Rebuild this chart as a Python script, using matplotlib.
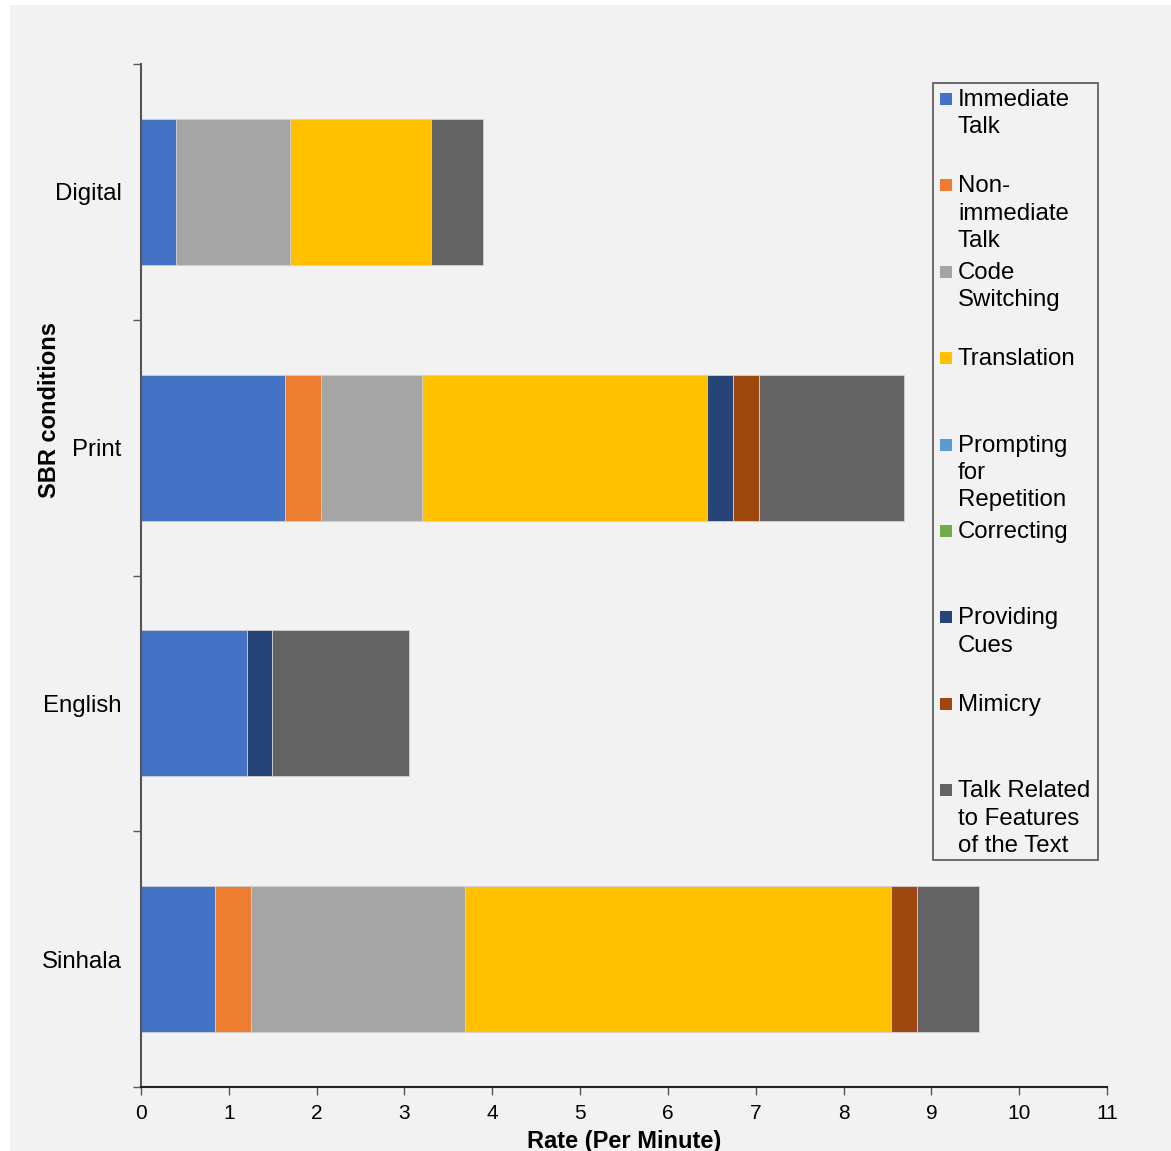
import numpy as np
import matplotlib.pyplot as plt
from matplotlib.patches import Rectangle

plt.rcParams['font.family'] = ['Liberation Sans', 'DejaVu Sans']

# data to plot (rate per minute for each SBR condition)
conditions = ['Digital', 'Print', 'English', 'Sinhala']
immediate_talk = [0.40, 1.64, 1.21, 0.84]
non_immediate_talk = [0.00, 0.41, 0.00, 0.41]
code_switching = [1.30, 1.15, 0.00, 2.44]
translation = [1.60, 3.25, 0.00, 4.85]
prompting = [0.00, 0.00, 0.00, 0.00]
correcting = [0.00, 0.00, 0.00, 0.00]
providing_cues = [0.00, 0.29, 0.28, 0.00]
mimicry = [0.00, 0.30, 0.00, 0.30]
text_features = [0.60, 1.65, 1.56, 0.70]

series_labels = ['Immediate\nTalk', 'Non-\nimmediate\nTalk', 'Code\nSwitching',
                 'Translation', 'Prompting\nfor\nRepetition', 'Correcting',
                 'Providing\nCues', 'Mimicry', 'Talk Related\nto Features\nof the Text']
colors = ['#4472C4', '#ED7D31', '#A5A5A5', '#FFC000', '#5B9BD5',
          '#70AD47', '#264478', '#9E480E', '#636363']
series = [immediate_talk, non_immediate_talk, code_switching, translation,
          prompting, correcting, providing_cues, mimicry, text_features]

W, H = 1171, 1151
fig = plt.figure(figsize=(W / 100, H / 100), dpi=100, facecolor='white')
fig.patches.append(Rectangle((10 / W, 0), 1 - 10 / W, 1 - 5 / H,
                             transform=fig.transFigure, facecolor='#f2f2f2',
                             edgecolor='none', zorder=-10))

ax = fig.add_axes([141 / W, 1 - 1087 / H, 966 / W, 1023 / H])
ax.set_facecolor('#f2f2f2')

index = np.arange(len(conditions))
left = np.zeros(len(conditions))
for vals, col in zip(series, colors):
    vals = np.array(vals)
    ax.barh(index, vals, height=0.57, left=left, color=col,
            edgecolor='#d0d0d0', linewidth=0.6)
    left += vals

ax.set_xlim(0, 11)
ax.set_ylim(3.5, -0.5)
ax.set_xticks(range(12))
ax.tick_params(axis='x', labelsize=15, length=6, width=1, color='#555555', pad=6)

# category labels sit between the boundary tick marks
ax.set_yticks(np.arange(-0.5, 4.0, 1.0))
ax.set_yticklabels([])
ax.set_yticks(index, minor=True)
ax.set_yticklabels(conditions, minor=True, fontsize=17.3)
ax.tick_params(axis='y', which='major', length=6, width=1, color='#555555')
ax.tick_params(axis='y', which='minor', length=0, pad=14)

for side in ['top', 'right']:
    ax.spines[side].set_visible(False)
ax.spines['left'].set_color('#555555')
ax.spines['left'].set_linewidth(1.5)
ax.spines['bottom'].set_color('#222222')
ax.spines['bottom'].set_linewidth(1.5)

ax.set_xlabel('Rate (Per Minute)', fontsize=17, fontweight='bold', labelpad=5)
ax.set_ylabel('SBR conditions', fontsize=17, fontweight='bold')
ax.yaxis.set_label_coords(-80 / 966, 0.662)

# legend box with evenly spaced, wrapped entries
fig.patches.append(Rectangle((933 / W, 1 - 860 / H), 165 / W, 777 / H,
                             transform=fig.transFigure, facecolor='#f2f2f2',
                             edgecolor='#555555', linewidth=1.2, zorder=5))
for i, (lab, col) in enumerate(zip(series_labels, colors)):
    yc = 99 + 86.4 * i
    fig.patches.append(Rectangle((940 / W, 1 - (yc + 6) / H), 12 / W, 12 / H,
                                 transform=fig.transFigure, facecolor=col,
                                 edgecolor='none', zorder=6))
    fig.text(958 / W, 1 - (yc - 10) / H, lab, fontsize=17.3, va='top',
             ha='left', linespacing=1.32, zorder=7)

plt.savefig('out.png', dpi=100, facecolor=fig.get_facecolor())
